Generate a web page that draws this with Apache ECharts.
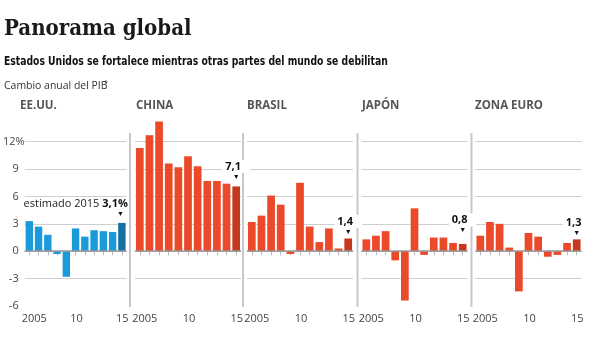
<!DOCTYPE html>
<html><head><meta charset="utf-8">
<script src="https://cdn.jsdelivr.net/npm/echarts@6/dist/echarts.min.js"></script>
<style>html,body{margin:0;padding:0;background:#fff}#c{width:600px;height:341px}</style>
</head><body><div id="c"></div>
<script>
const years = ['2005','2006','2007','2008','2009','2010','2011','2012','2013','2014','2015'];
const yTicks = [-6, -3, 0, 3, 6, 9, 12];
const usa    = [3.3, 2.7, 1.8, -0.3, -2.8, 2.5, 1.6, 2.3, 2.2, 2.1, 3.1];
const china  = [11.3, 12.7, 14.2, 9.6, 9.2, 10.4, 9.3, 7.7, 7.7, 7.4, 7.1];
const brasil = [3.2, 3.9, 6.1, 5.1, -0.3, 7.5, 2.7, 1.0, 2.5, 0.3, 1.4];
const japon  = [1.3, 1.7, 2.2, -1.0, -5.4, 4.7, -0.4, 1.5, 1.5, 0.9, 0.8];
const euro   = [1.7, 3.2, 3.0, 0.4, -4.4, 2.0, 1.6, -0.6, -0.4, 0.9, 1.3];
const names  = ['EE.UU.', 'CHINA', 'BRASIL', 'JAPÓN', 'ZONA EURO'];
const lastLabels = ['3,1%', '7,1', '1,4', '0,8', '1,3'];

const panels = [
  {data: usa, left: 20.5, color: '#1a9ad8', dark: '#176ea3', dist: 4},
  {data: china, left: 135, color: '#ea4a2a', dark: '#c4391f', dist: 5},
  {data: brasil, left: 247, color: '#ea4a2a', dark: '#c4391f', dist: 2},
  {data: japon, left: 361.5, color: '#ea4a2a', dark: '#c4391f', dist: 9},
  {data: euro, left: 475.5, color: '#ea4a2a', dark: '#c4391f', dist: 2}
];
const W = 106, TOP = 141.7, H = 164.3;
const sans = "'Open Sans', 'Noto Sans', sans-serif";
const yMin = yTicks[0], yMax = yTicks[yTicks.length - 1], yStep = yTicks[1] - yTicks[0];

const grids = [], xAxes = [], yAxes = [], series = [];
panels.forEach((p, i) => {
  grids.push({left: p.left, top: TOP, width: W, height: H, containLabel: false});
  xAxes.push({
    type: 'category', gridIndex: i, data: years, boundaryGap: true,
    axisLine: {show: true, lineStyle: {color: '#c8c8c8', width: 1}},
    axisTick: {show: true, interval: 0, alignWithLabel: true, length: 4, lineStyle: {color: '#b8b8b8'}},
    axisLabel: {
      interval: 0, margin: 7, color: '#444', fontFamily: sans, fontSize: 11,
      formatter: (v, idx) => idx === 0 ? '{a|2005}' : idx === 5 ? '{b|10}' : idx === 10 ? '{c|15}' : '',
      rich: {
        a: {padding: [0, 0, 0, 10], fontFamily: sans, fontSize: 11, color: '#444'},
        b: {padding: [0, 0, 0, 2], fontFamily: sans, fontSize: 11, color: '#444'},
        c: {padding: [0, 0, 0, 1], fontFamily: sans, fontSize: 11, color: '#444'}
      }
    },
    splitLine: {show: false}
  });
  yAxes.push({
    type: 'value', gridIndex: i, min: yMin, max: yMax, interval: yStep,
    axisLine: {show: false}, axisTick: {show: false},
    axisLabel: {
      show: i === 0, margin: 0, color: '#444', fontFamily: sans, fontSize: 11,
      formatter: v => v === yMax ? v + '%' : v + '{s| }',
      rich: {s: {width: 6, fontSize: 11}}
    },
    splitLine: {show: true, lineStyle: {color: ['rgba(0,0,0,0)', '#cfcfcf', 'rgba(0,0,0,0)', '#cfcfcf', '#cfcfcf', '#cfcfcf', '#cfcfcf'], width: 1}}
  });
  const n = p.data.length;
  const data = p.data.map((v, k) => {
    if (k !== n - 1) return v;
    const isUS = i === 0;
    return {
      value: v,
      itemStyle: {color: p.dark},
      label: {
        show: true, position: 'top', distance: p.dist,
        align: isUS ? 'right' : 'center',
        offset: isUS ? [6, 0] : [0, 0],
        formatter: isUS ? '{e|estimado 2015 }{v|' + lastLabels[i] + '}\n{a|▼}' : '{v|' + lastLabels[i] + '}\n{a|▼}',
        rich: {
          e: {fontFamily: sans, fontSize: 11, color: '#222', lineHeight: 12},
          v: {fontFamily: sans, fontSize: 11, fontWeight: 'bold', color: '#111', lineHeight: 12,
              backgroundColor: isUS ? 'transparent' : '#fff', padding: isUS ? [0, 0, 0, 0] : [1, 9, 1, 3]},
          a: {fontSize: 7, color: '#111', lineHeight: 9, padding: isUS ? [0, 4, 0, 0] : [0, 0, 0, 0]}
        }
      }
    };
  });
  series.push({
    type: 'bar', xAxisIndex: i, yAxisIndex: i, data: data, clip: false,
    barCategoryGap: '20%', itemStyle: {color: p.color},
    markLine: {silent: true, symbol: 'none', label: {show: false},
      lineStyle: {color: '#999', width: 1.5, type: 'solid'}, data: [{yAxis: 0}]}
  });
});

const graphic = [
  {type: 'text', x: 4, y: 29, scaleX: 0.9, style: {text: 'Panorama global', font: "bold 22px 'DejaVu Serif', serif", fill: '#1a1a1a', verticalAlign: 'middle'}},
  {type: 'text', x: 4, y: 62, scaleX: 0.855, style: {text: 'Estados Unidos se fortalece mientras otras partes del mundo se debilitan', font: "bold 12px 'DejaVu Sans Condensed', 'DejaVu Sans', sans-serif", fill: '#111', verticalAlign: 'middle'}},
  {type: 'text', x: 4, y: 86, scaleX: 0.95, style: {text: 'Cambio anual del PIB', font: "11px " + sans, fill: '#333', verticalAlign: 'middle'}},
  {type: 'text', x: 104, y: 83, style: {text: '*', font: "7px " + sans, fill: '#333', verticalAlign: 'middle'}}
];
const titleX = [20, 136, 247, 362, 475];
names.forEach((nm, i) => graphic.push({type: 'text', x: titleX[i], y: 106, style: {text: nm, font: "bold 11.5px " + sans, fill: '#555', verticalAlign: 'middle'}}));
[130, 243, 357.5, 471.5].forEach(x => graphic.push({type: 'line', shape: {x1: x, y1: 133, x2: x, y2: 307}, style: {stroke: '#c8c8c8', lineWidth: 2}}));

const chart = echarts.init(document.getElementById('c'), null, {renderer: 'canvas'});
chart.setOption({animation: false, grid: grids, xAxis: xAxes, yAxis: yAxes, series: series, graphic: graphic});
</script></body></html>
